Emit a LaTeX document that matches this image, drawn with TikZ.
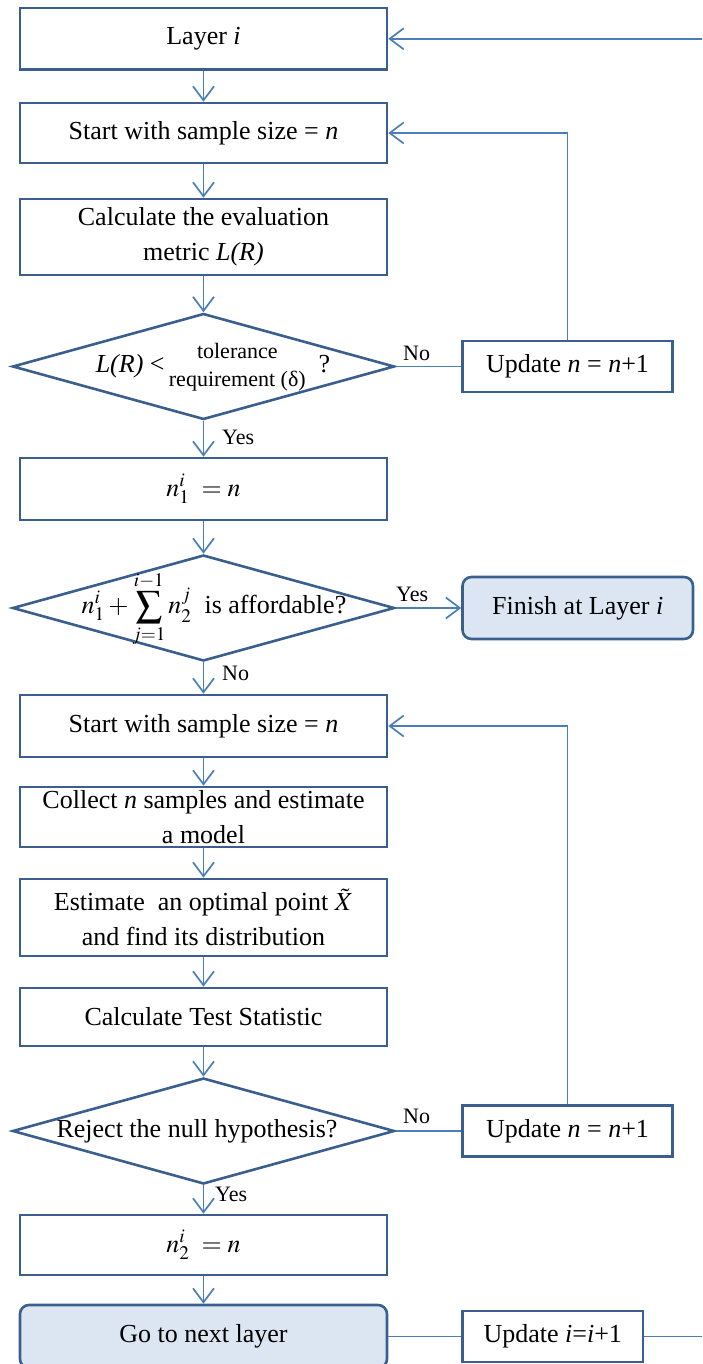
\documentclass[tikz,border=0pt]{standalone}
\usepackage{mathptmx}
\usepackage{fontspec}
\setmainfont{Liberation Serif}
\usetikzlibrary{shapes.geometric,arrows.meta}
\definecolor{boxline}{HTML}{3A5F8F}
\definecolor{linkline}{HTML}{4A7EBB}
\definecolor{boxfill}{HTML}{DCE6F2}
\tikzset{
  box/.style={draw=boxline, line width=2.6pt, minimum width=367pt, inner sep=0pt, align=center},
  endbox/.style={box, rounded corners=9pt, fill=boxfill},
  sidebox/.style={draw=boxline, line width=2.6pt, inner sep=0pt, minimum height=51pt},
  decision/.style={draw=boxline, line width=2.6pt, diamond, inner sep=0pt, minimum width=382pt, minimum height=106pt},
  link/.style={draw=linkline, line width=1.7pt},
  arrow/.style={link, -{Straight Barb[length=14pt,width=21pt,line width=1.7pt]}},
  tag/.style={font=\fontsize{22}{26}\selectfont, inner sep=0pt, anchor=base west},
  plain/.style={inner sep=0pt, align=center}
}
\begin{document}
\begin{tikzpicture}[x=1pt, y=-1pt, font=\fontsize{26}{35}\selectfont]
\useasboundingbox (0,0) rectangle (702,1364);
\clip (0,0) rectangle (702,1364);

% main column
\node[box, minimum height=61.5pt] (layer) at (203.5,38.8) {Layer \textit{i}};
\node[box, minimum height=60pt] (start1) at (203.5,133) {Start with sample size = \textit{n}};
\node[box, minimum height=76pt] (calc) at (203.5,237) {Calculate the evaluation\\metric \textit{L(R)}};
\node[decision] (dec1) at (203.5,366.5) {};
\node[plain] (dec1txt) at (213,367) {\textit{L(R)} <\,{\fontsize{22}{28}\selectfont\begin{tabular}{@{}c@{}}tolerance\\requirement (δ)\end{tabular}}\ \ ?};
\node[box, minimum height=62pt] (n1) at (203.5,489) {$n_1^i\ = n$};
\node[decision] (dec2) at (203.5,608) {};
\node[plain] (dec2txt) at (214,609) {$\displaystyle n_1^i+\sum_{j=1}^{i-1}n_2^j$\ \ is affordable?};
\node[box, minimum height=62pt] (start2) at (203.5,726) {Start with sample size = \textit{n}};
\node[box, minimum height=60pt] (collect) at (203.5,817) {Collect \textit{n} samples and estimate\\a model};
\node[box, minimum height=77pt] (estim) at (203.5,917.5) {Estimate\ \ an optimal point $\tilde{X}$\\and find its distribution};
\node[box, minimum height=58pt] (ctest) at (203.5,1017) {Calculate Test Statistic};
\node[decision] (dec3) at (203.5,1131) {};
\node[plain] (dec3txt) at (197,1131) {Reject the null hypothesis?};
\node[box, minimum height=60pt] (n2) at (203.5,1245) {$n_2^i\ = n$};
\node[endbox, minimum height=63pt] (next) at (203.5,1336.5) {Go to next layer};

% side column
\node[sidebox, minimum width=210pt] (upd1) at (567.5,366.5) {Update \textit{n} = \textit{n}+1};
\node[endbox, minimum width=230.5pt, minimum height=62pt] (finish) at (577.75,608) {Finish at Layer \textit{i}};
\node[sidebox, minimum width=210pt] (upd2) at (567.5,1131) {Update \textit{n} = \textit{n}+1};
\node[sidebox, minimum width=180.5pt] (upd3) at (552.75,1336.5) {Update \textit{i}=\textit{i}+1};

% connectors
\draw[arrow] (layer) -- (start1);
\draw[arrow] (start1) -- (calc);
\draw[arrow] (calc) -- (dec1);
\draw[arrow] (dec1) -- (n1);
\draw[link] (dec1.east) -- (upd1.west);
\draw[arrow] (upd1.north) |- (start1.east);
\draw[arrow] (n1) -- (dec2);
\draw[arrow] (dec2.east) -- (finish.west);
\draw[arrow] (dec2) -- (start2);
\draw[arrow] (start2) -- (collect);
\draw[arrow] (collect) -- (estim);
\draw[arrow] (estim) -- (ctest);
\draw[arrow] (ctest) -- (dec3);
\draw[link] (dec3.east) -- (upd2.west);
\draw[arrow] (upd2.north) |- (start2.east);
\draw[arrow] (dec3) -- (n2);
\draw[arrow] (n2) -- (next);
\draw[link] (next.east) -- (upd3.west);
\draw[arrow] (upd3.east) -- ++(80,0) |- (layer.east);

% branch labels
\node[tag] (no1) at (403,360.5) {No};
\node[tag] (yes1) at (222,444) {Yes};
\node[tag] (yes2) at (396,601.5) {Yes};
\node[tag] (no2) at (222,680) {No};
\node[tag] (no3) at (403,1123) {No};
\node[tag] (yes3) at (215,1201.5) {Yes};
\end{tikzpicture}
\end{document}
